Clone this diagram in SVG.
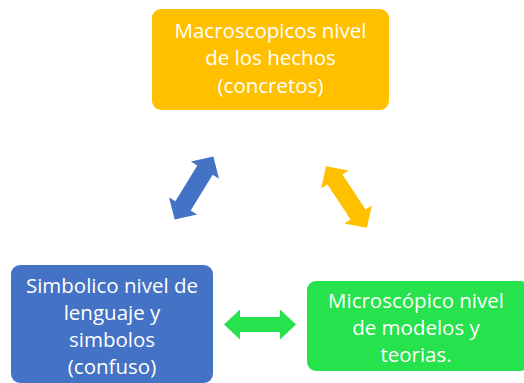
<svg xmlns="http://www.w3.org/2000/svg" width="524" height="383" viewBox="0 0 524 383">
<style>
.t{font-family:"Open Sans","Liberation Sans",sans-serif;font-size:20.5px;fill:#ffffff;text-anchor:middle}
</style>
<rect width="524" height="383" fill="#ffffff"/>
<g id="macro">
<rect x="152" y="9" width="237" height="101" rx="9" fill="#FFC000"/>
<text class="t" x="270.5" y="38">Macroscopicos nivel</text>
<text class="t" x="270.5" y="65">de los hechos</text>
<text class="t" x="270.5" y="93">(concretos)</text>
</g>
<g id="simbolico">
<rect x="11" y="265" width="202" height="118" rx="9" fill="#4472C4"/>
<text class="t" x="112" y="293">Simbolico nivel de</text>
<text class="t" x="112" y="320">lenguaje y</text>
<text class="t" x="112" y="347">simbolos</text>
<text class="t" x="112" y="374">(confuso)</text>
</g>
<g id="micro">
<rect x="307" y="281" width="222" height="90" rx="9" fill="#26E24C"/>
<text class="t" x="416" y="308">Microscópico nivel</text>
<text class="t" x="416" y="335">de modelos y</text>
<text class="t" x="416" y="362">teorias.</text>
</g>
<g id="connectors">
<polygon transform="translate(194,188) rotate(-58.5)" points="-37,0 -21,-16.5 -21,-9 21,-9 21,-16.5 37,0 21,16.5 21,9 -21,9 -21,16.5" fill="#4472C4"/>
<polygon transform="translate(346.5,197) rotate(56.5)" points="-37,0 -21,-16.5 -21,-9 21,-9 21,-16.5 37,0 21,16.5 21,9 -21,9 -21,16.5" fill="#FFC000"/>
<polygon transform="translate(260,324.5)" points="-36,0 -20,-15 -20,-7.5 20,-7.5 20,-15 36,0 20,15 20,7.5 -20,7.5 -20,15" fill="#26E24C"/>
</g>
</svg>
